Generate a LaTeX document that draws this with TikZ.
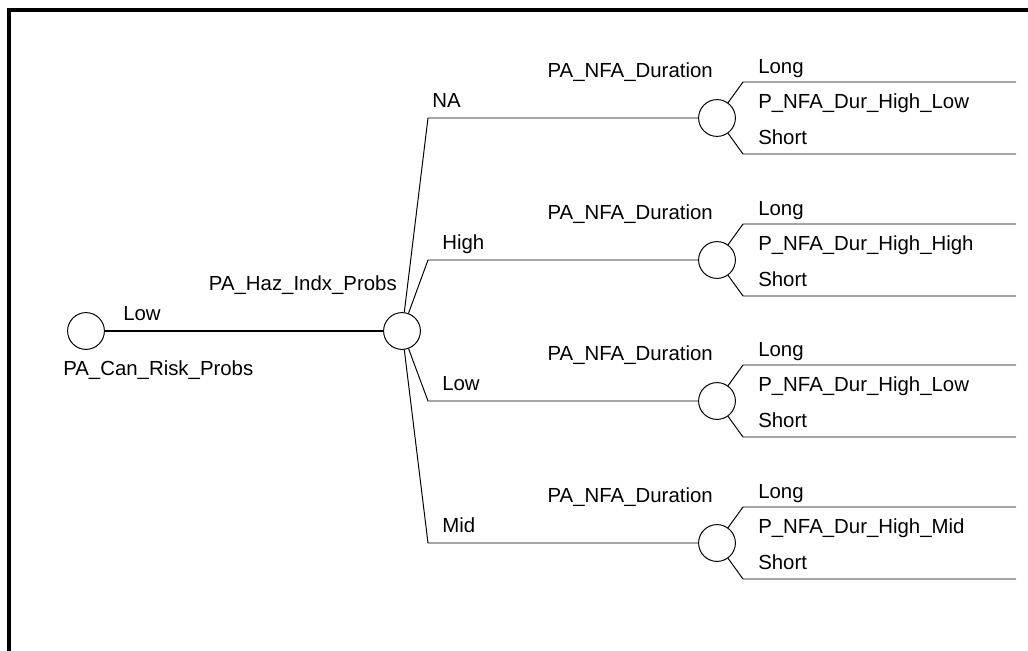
\documentclass[tikz,border=0pt]{standalone}
\usepackage{fontspec}
\setmainfont{Liberation Sans}
\usetikzlibrary{positioning}

\begin{document}
\begin{tikzpicture}[
    x=0.025cm, y=-0.025cm,
    font=\fontsize{14.5}{16}\selectfont,
    chance/.style={draw=black, circle, minimum size=0.92cm, inner sep=0pt, line width=0.7pt},
    branch/.style={draw=black, line width=0.7pt},
    lbl/.style={inner sep=0pt},
]
\useasboundingbox (0,0) rectangle (1028,651);

% Ramka
\draw[line width=2.2pt] (9,651) -- (9,10) -- (1028,10);

% Wezly glowne
\node[chance] (root) at (86,331) {};
\node[chance] (haz) at (402,331) {};
\draw[line width=1.8pt] (root) -- (haz);

\node[lbl, anchor=base west] (rlow) at (123,320) {Low};
\node[lbl, anchor=base west] (rname) at (63,375) {PA\_Can\_Risk\_Probs};
\node[lbl, anchor=base east] (hname) at (397,290) {PA\_Haz\_Indx\_Probs};

% Galezie
\foreach \i/\yy/\lab/\lx/\pname in {1/118/NA/432/P\_NFA\_Dur\_High\_Low,
    2/260/High/442/P\_NFA\_Dur\_High\_High,
    3/401/Low/442/P\_NFA\_Dur\_High\_Low,
    4/543/Mid/442/P\_NFA\_Dur\_High\_Mid} {
  \coordinate (k\i) at (428,\yy);
  \node[chance] (dur\i) at (717,\yy) {};
  \coordinate (lu\i) at (743,\yy-36);
  \coordinate (ld\i) at (743,\yy+36);
  \coordinate (eu\i) at (1016,\yy-36);
  \coordinate (ed\i) at (1016,\yy+36);
  \draw[branch] (haz) -- (k\i) -- (dur\i);
  \draw[branch] (dur\i) -- (lu\i) -- (eu\i);
  \draw[branch] (dur\i) -- (ld\i) -- (ed\i);
  \node[lbl, anchor=base west] (b\i) at (\lx,\yy-11) {\lab};
  \node[lbl, anchor=base east] (d\i) at (713,\yy-41) {PA\_NFA\_Duration};
  \node[lbl, anchor=base west] (long\i) at (758,\yy-45) {Long};
  \node[lbl, anchor=base west] (p\i) at (758,\yy-10) {\pname};
  \node[lbl, anchor=base west] (short\i) at (758,\yy+26) {Short};
}

\end{tikzpicture}
\end{document}
